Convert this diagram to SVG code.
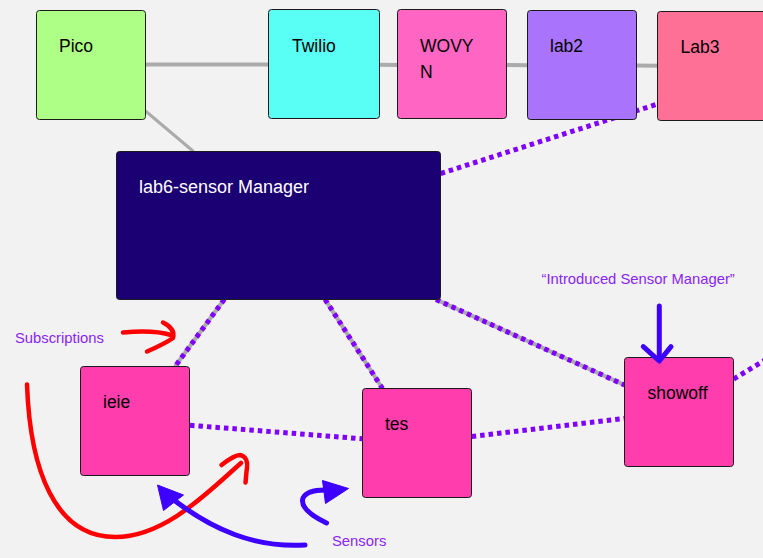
<svg xmlns="http://www.w3.org/2000/svg" width="763" height="558" viewBox="0 0 763 558">
<style>
.n{stroke:#1a1a1a;stroke-width:1}
.t{font-family:"Liberation Sans",Arial,sans-serif;font-size:17.5px;fill:#000}
.w{fill:#fff;font-size:18px}
.lbl{font-family:"Liberation Sans",Arial,sans-serif;font-size:14.8px;fill:#8a24f5}
.g{stroke:#ababab;stroke-width:4;fill:none}
.d{stroke:#7f00ff;stroke-width:5;stroke-dasharray:4.5 4;fill:none}
.r{stroke:#ff0000;stroke-width:4.5;fill:none;stroke-linecap:round;stroke-linejoin:round}
.b{stroke:#3d00ff;stroke-width:5;fill:none;stroke-linecap:round;stroke-linejoin:round}
.bf{fill:#3d00ff;stroke:#3d00ff;stroke-width:1;stroke-linejoin:round}
</style>
<rect width="763" height="558" fill="#f2f2f2"/>
<g id="connectors">
<line class="g" x1="145" y1="64.5" x2="269" y2="64.5"/>
<line class="g" x1="379" y1="64.7" x2="398" y2="64.9"/>
<line class="g" x1="506" y1="65" x2="528" y2="65.2"/>
<line class="g" x1="636" y1="65.6" x2="658" y2="65.8"/>
<line class="g" x1="145.5" y1="111" x2="193.5" y2="151.5" style="stroke-width:3"/>
<line class="g" x1="224.3" y1="299.3" x2="175" y2="366.5"/>
<line class="d" x1="224.3" y1="299.3" x2="175" y2="366.5"/>
<line class="g" x1="325" y1="299.3" x2="382.5" y2="388.5"/>
<line class="d" x1="325" y1="299.3" x2="382.5" y2="388.5"/>
<line class="g" x1="436" y1="299.5" x2="624.5" y2="385"/>
<line class="d" x1="436" y1="299.5" x2="624.5" y2="385"/>
<line class="d" x1="440.7" y1="173.5" x2="657.5" y2="104"/>
<line class="d" x1="190" y1="425.3" x2="362.5" y2="438.8"/>
<line class="d" x1="471.7" y1="436.5" x2="624.5" y2="418.4"/>
<line class="d" x1="733.7" y1="379" x2="765" y2="360"/>
</g>
<g id="pico"><rect class="n" x="36.5" y="10.5" width="109" height="109" rx="3" fill="#aeff86"/><text class="t" x="59" y="52">Pico</text></g>
<g id="twilio"><rect class="n" x="268.5" y="9.5" width="111" height="109" rx="3" fill="#59fff4"/><text class="t" x="292" y="52">Twilio</text></g>
<g id="wovyn"><rect class="n" x="397.5" y="9.5" width="109" height="109" rx="3" fill="#ff66c4"/><text class="t" x="420" y="52">WOVY</text><text class="t" x="420" y="77.5">N</text></g>
<g id="lab2"><rect class="n" x="527.5" y="10.5" width="109" height="109" rx="3" fill="#aa73fc"/><text class="t" x="550" y="52">lab2</text></g>
<g id="lab3"><rect class="n" x="657.5" y="11.5" width="120" height="109" rx="3" fill="#ff7097"/><text class="t" x="680.5" y="53">Lab3</text></g>
<g id="lab6"><rect class="n" x="116.5" y="151.5" width="324" height="148" rx="3" fill="#1a0073"/><text class="t w" x="139" y="193">lab6-sensor Manager</text></g>
<g id="ieie"><rect class="n" x="80.5" y="366.5" width="109" height="109" rx="3" fill="#ff3dad"/><text class="t" x="103" y="408">ieie</text></g>
<g id="tes"><rect class="n" x="362.5" y="388.5" width="109" height="109" rx="3" fill="#ff3dad"/><text class="t" x="385" y="430">tes</text></g>
<g id="showoff"><rect class="n" x="624.5" y="357.5" width="109" height="109" rx="3" fill="#ff3dad"/><text class="t" x="647.5" y="398.5">showoff</text></g>
<g id="annotations">
<text class="lbl" x="15" y="343">Subscriptions</text>
<text class="lbl" x="332" y="546">Sensors</text>
<text class="lbl" x="541.5" y="284">“Introduced Sensor Manager”</text>
<path class="r" d="M123,332.5 C140,331 158,331 171,335"/>
<path class="r" d="M163,322.5 C170,326 175,331 173,338 C166,343 155,348 147,351.5"/>
<path class="r" d="M27,384.5 C30,470 55,537 115,537 C165,537 208,492 241,463"/>
<path class="r" d="M221.5,465 C228,460 235,455 240,455 C246,456 248,462 247,468 C246,474 246,479 245.5,482.5"/>
<path class="b" d="M659.3,306 L659.3,359"/>
<path class="b" d="M643.3,346.7 L659.3,361 L671,346.7"/>
<path class="b" d="M305,545 C255,548 212,530 170,497"/>
<path class="bf" d="M157.5,485 L163.5,510.5 L183.5,495 Z"/>
<path class="b" d="M326.5,523 C312,516 300,507 303,498 C306,492 314,490 325,490"/>
<path class="bf" d="M322.5,480.5 L348.5,488.5 L325.5,503.5 Z"/>
</g>
</svg>
